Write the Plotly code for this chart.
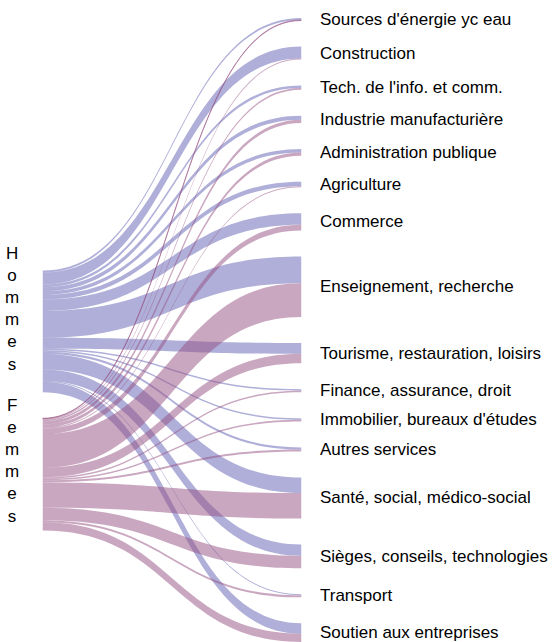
import plotly.graph_objects as go

# secteurs d'activité (colonne de droite), de haut en bas
secteurs = [
    "Sources d'énergie yc eau",
    "Construction",
    "Tech. de l'info. et comm.",
    "Industrie manufacturière",
    "Administration publique",
    "Agriculture",
    "Commerce",
    "Enseignement, recherche",
    "Tourisme, restauration, loisirs",
    "Finance, assurance, droit",
    "Immobilier, bureaux d'études",
    "Autres services",
    "Santé, social, médico-social",
    "Sièges, conseils, technologies",
    "Transport",
    "Soutien aux entreprises",
]
sexes = ["Hommes", "Femmes"]
hommes = [20, 115, 25, 40, 35, 45, 110, 260, 105, 15, 15, 20, 150, 110, 10, 100]
femmes = [5, 10, 15, 30, 30, 10, 55, 325, 90, 15, 15, 20, 245, 120, 20, 80]

couleurs = ["rgba(95,95,180,0.5)", "rgba(150,80,130,0.5)"]

W, H = 552, 642
m_l, m_r, m_t, m_b = 42, 250, 18, 0
pad = 26
plot_w = W - m_l - m_r
plot_h = H - m_t - m_b

# placement des noeuds (même logique que d3-sankey, ordre imposé)
totaux = [h + f for h, f in zip(hommes, femmes)]
ky = (plot_h - (len(secteurs) - 1) * pad) / sum(totaux)
centres = []
y = 0
for t in totaux:
    centres.append(y + t * ky / 2)
    y += t * ky + pad


def centre_pondere(vals):
    return sum(v * c for v, c in zip(vals, centres)) / sum(vals)


c_h = centre_pondere(hommes)
c_f = centre_pondere(femmes)
h_h = sum(hommes) * ky
h_f = sum(femmes) * ky
c_f = max(c_f - h_f / 2, c_h + h_h / 2 + pad) + h_f / 2
centres_g = [c_h, c_f]

n = len(secteurs)
node_x = [0.001, 0.001] + [0.999] * n
node_y = [c / plot_h for c in centres_g] + [c / plot_h for c in centres]

source, target, value, color = [], [], [], []
for s, vals in enumerate([hommes, femmes]):
    for i, v in enumerate(vals):
        source.append(s)
        target.append(2 + i)
        value.append(v)
        color.append(couleurs[s])

fig = go.Figure(go.Sankey(
    arrangement="fixed",
    node=dict(
        label=[""] * (n + 2),
        x=node_x,
        y=node_y,
        pad=pad,
        thickness=1,
        color="rgba(0,0,0,0)",
        line=dict(width=0),
        customdata=sexes + secteurs,
        hovertemplate="%{customdata}<extra></extra>",
    ),
    link=dict(source=source, target=target, value=value, color=color),
))

police = dict(family="Arial, Liberation Sans, sans-serif", size=17, color="black")
annotations = []
for nom, c in zip(secteurs, centres):
    annotations.append(dict(
        text=nom, x=1 + 16 / plot_w, y=1 - c / plot_h,
        xref="paper", yref="paper", xanchor="left", yanchor="middle",
        showarrow=False, font=police,
    ))
# libellés verticaux, lettre par lettre, autour de l'espace entre les deux noeuds
milieu = (c_h + h_h / 2 + c_f - h_f / 2) / 2
for nom, decal in zip(sexes, [96, -56]):
    annotations.append(dict(
        text="<br>".join(nom), x=-30 / plot_w, y=1 - milieu / plot_h,
        xref="paper", yref="paper", xanchor="center", yanchor="middle",
        yshift=decal, showarrow=False, font=police,
    ))

fig.update_layout(
    width=W, height=H,
    margin=dict(l=m_l, r=m_r, t=m_t, b=m_b),
    paper_bgcolor="white",
    annotations=annotations,
)
fig.write_html("out.html", config={"displayModeBar": False},
               post_script="document.body.style.margin='0';")
